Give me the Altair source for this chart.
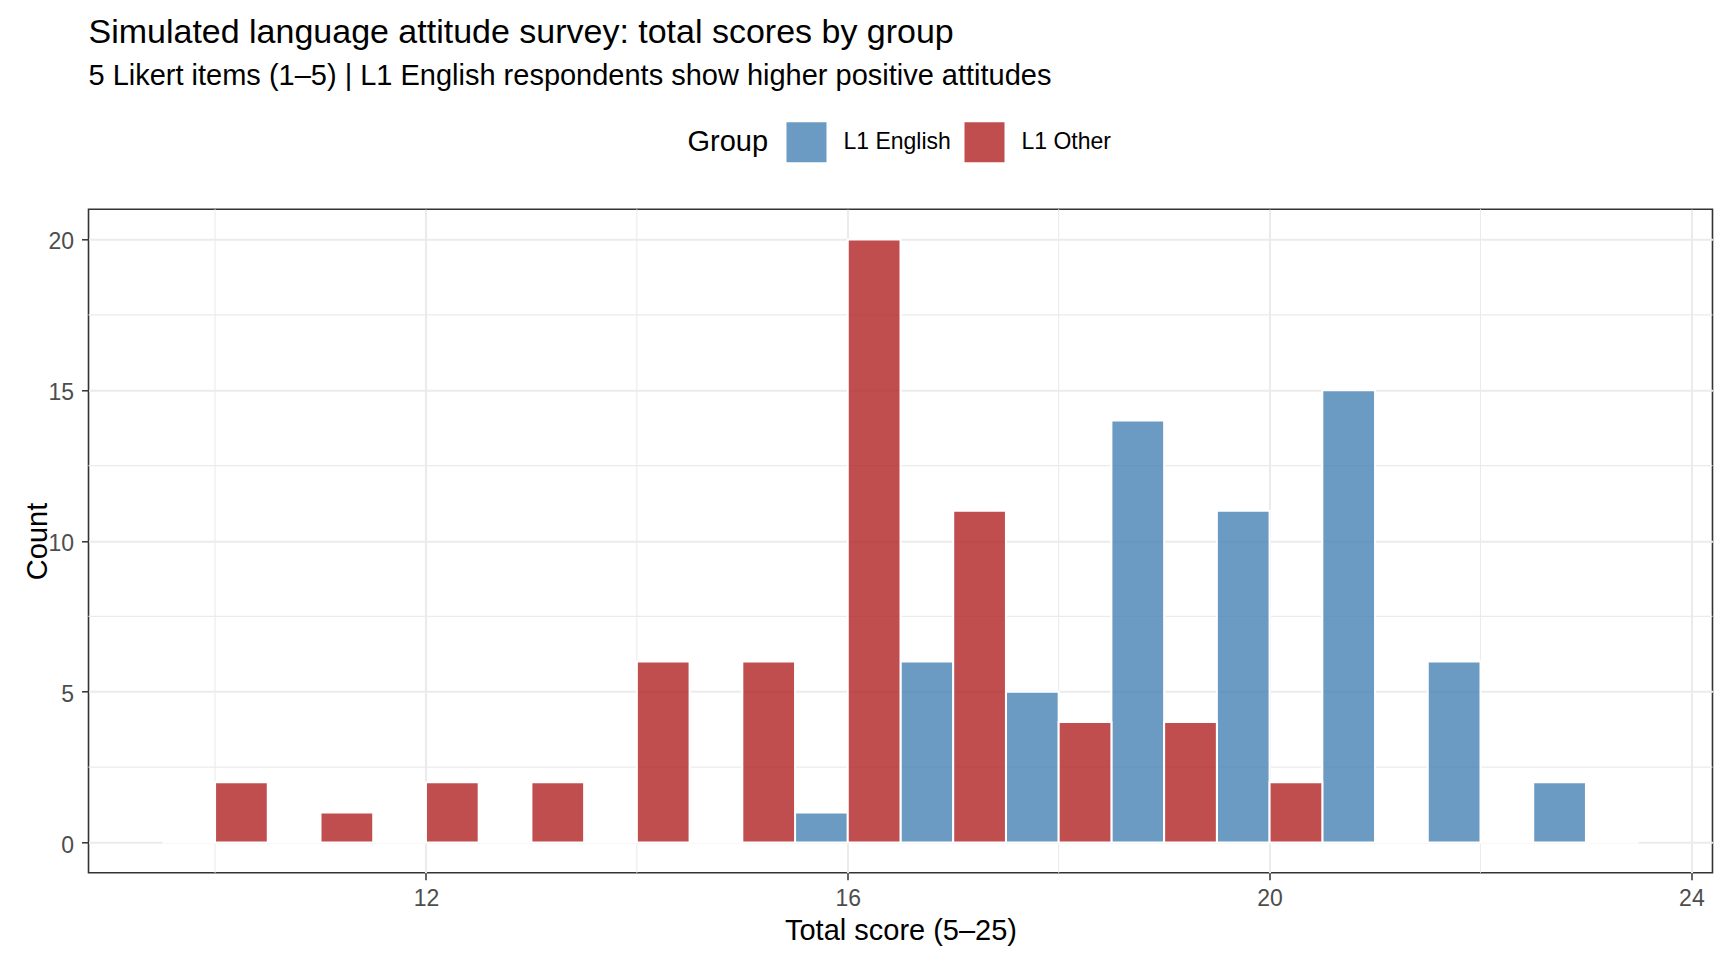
import altair as alt
import pandas as pd

# ---- data ----
scores = list(range(10, 24))
l1_english = [0, 0, 0, 0, 0, 0, 1, 6, 5, 14, 11, 15, 6, 2]
l1_other = [2, 1, 2, 2, 6, 6, 20, 11, 4, 4, 2, 0, 0, 0]
groups = ["L1 English", "L1 Other"]
colors = ["#4682B4", "#B22222"]
x_ticks = [12, 16, 20, 24]
y_ticks = [0, 5, 10, 15, 20]
x_minor = [10, 14, 18, 22]
y_minor = [2.5, 7.5, 12.5, 17.5]

title_text = "Simulated language attitude survey: total scores by group"
subtitle_text = "5 Likert items (1–5) | L1 English respondents show higher positive attitudes"
x_title = "Total score (5–25)"
y_title = "Count"

df = pd.DataFrame({
    "score": scores * 2,
    "group": [groups[0]] * len(scores) + [groups[1]] * len(scores),
    "count": l1_english + l1_other,
})

FONT = "Liberation Sans"
W, H = 1624, 663.4
GRID = "#EBEBEB"
DARK = "#333333"

xscale = alt.Scale(domain=[8.8, 24.2], nice=False, zero=False)
yscale = alt.Scale(domain=[-1, 21], nice=False, zero=False)

x_axis = alt.Axis(
    values=x_ticks, grid=True, gridColor=GRID, gridWidth=2.1, domain=False,
    ticks=True, tickColor=DARK, tickWidth=1.5, tickSize=7,
    labelFont=FONT, labelFontSize=23, labelColor="#4D4D4D", labelPadding=8,
    titleFont=FONT, titleFontSize=29, titleColor="black", titleFontWeight="normal",
    titleBaseline="alphabetic", titleY=66.6,
)
y_axis = alt.Axis(
    values=y_ticks, grid=True, gridColor=GRID, gridWidth=2.1, domain=False,
    ticks=True, tickColor=DARK, tickWidth=1.5, tickSize=7,
    labelFont=FONT, labelFontSize=23, labelColor="#4D4D4D", labelPadding=8,
    labelOffset=2.5,
    titleFont=FONT, titleFontSize=29, titleColor="black", titleFontWeight="normal",
    titleBaseline="alphabetic", titleX=-42.5, titleY=H / 2, titleAngle=270,
)

vgrid = alt.Chart(pd.DataFrame({"v": x_minor})).mark_rule(
    color=GRID, strokeWidth=1.1
).encode(x=alt.X("v:Q", scale=xscale, axis=x_axis, title=x_title))

hgrid = alt.Chart(pd.DataFrame({"v": y_minor})).mark_rule(
    color=GRID, strokeWidth=1.1
).encode(y=alt.Y("v:Q", scale=yscale, axis=y_axis, title=y_title))

bars = alt.Chart(df).transform_calculate(
    x0="datum.score - 0.5 + (datum.group == 'L1 Other' ? 0.5 : 0)",
    x1="datum.score + (datum.group == 'L1 Other' ? 0.5 : 0)",
).mark_rect(
    fillOpacity=0.8, stroke="white", strokeWidth=2, strokeOpacity=1
).encode(
    x=alt.X("x0:Q", scale=xscale, axis=x_axis, title=x_title),
    x2="x1:Q",
    y=alt.Y("count:Q", scale=yscale, axis=y_axis, title=y_title),
    y2=alt.datum(0),
    color=alt.Color(
        "group:N",
        scale=alt.Scale(domain=groups, range=colors),
        legend=alt.Legend(
            orient="none", legendX=599, legendY=-87, direction="horizontal",
            title="Group", titleOrient="left", titleFont=FONT, titleFontSize=29,
            titleFontWeight="normal", titleColor="black", titlePadding=18,
            labelFont=FONT, labelFontSize=23, labelColor="black", labelOffset=17,
            columnPadding=13, symbolType="square", symbolSize=1600,
            symbolOpacity=0.8, symbolStrokeWidth=0, padding=0,
        ),
    ),
)

chart = alt.layer(vgrid, hgrid, bars).properties(
    width=W, height=H,
    background="white",
    autosize=alt.AutoSizeParams(type="none"),
    padding={"left": 80.5, "top": 201.3, "right": 7, "bottom": 75},
    title=alt.Title(
        text=title_text, subtitle=subtitle_text, anchor="start", frame="group",
        font=FONT, fontSize=34, fontWeight="normal", color="black",
        subtitleFont=FONT, subtitleFontSize=29, subtitleColor="black",
        offset=31, subtitlePadding=12,
    ),
).configure_view(stroke=DARK, strokeWidth=1.6)

chart.save("out.html", embed_options={"renderer": "svg", "actions": False})
